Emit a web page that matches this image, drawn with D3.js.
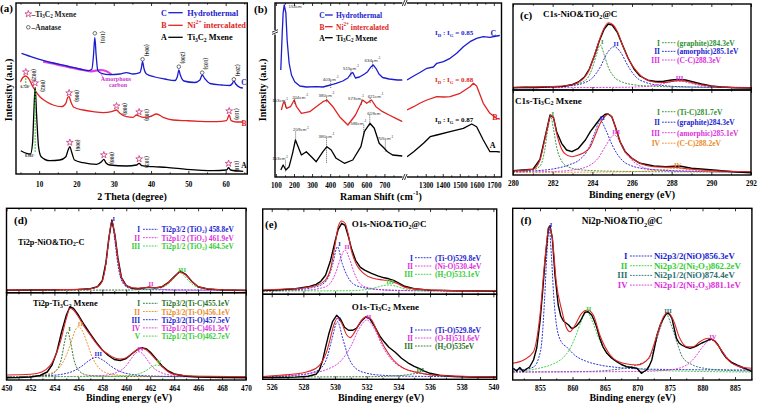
<!DOCTYPE html>
<html><head><meta charset="utf-8">
<script src="https://cdn.jsdelivr.net/npm/d3@7"></script>
<style>
body{margin:0;background:#fff}
svg{display:block;font-family:"Liberation Serif","Times New Roman",serif;font-weight:bold}
</style></head><body>
<div id="chart"></div>
<script>
// ---------- (a) XRD ----------
const xrdC = [[5.28,120.7],[8.39,116.7],[11.07,113.7],[13.75,111],[17.35,108],[20.9,105],[23.14,103.3],[24.13,104.7],[24.58,119],[24.93,136.7],[25.28,119],[25.74,103.3],[26.73,100.7],[28.95,99.3],[31.64,100],[33.43,101.3],[35.2,100],[37.0,101.3],[37.4,106],[37.72,112.3],[38.07,106],[38.79,100],[41.0,97],[43.7,95],[46.4,93.5],[47.1,98],[47.45,104],[47.85,99],[48.8,93],[51.7,91.5],[53.1,94],[53.7,99],[54.4,95.5],[55.8,90.5],[59.0,89],[61.1,88.5],[61.8,90.5],[62.2,93],[62.7,90],[63.8,86.7],[64.6,86]];
const xrdAmorph = [[11.07,112.3],[14.66,109.7],[18.23,106.7],[21.8,104],[24.05,102.7],[26.27,104],[28.07,102.7],[29.4,99.3]];
const xrdB = [[5.0,92.3],[5.71,96.7],[6.43,98],[7.16,95.7],[8.39,86.7],[10.19,77.3],[11.98,72.3],[13.75,69],[16.0,67.3],[17.16,70.7],[17.69,76.7],[18.04,77.3],[18.5,72.3],[19.3,66.7],[21.8,64],[24.48,62.3],[27.16,61.3],[29.4,62.3],[30.75,64],[31.64,60.7],[33.43,57.3],[35.2,56.7],[36.1,59],[36.8,58],[37.88,56.7],[39.68,57.3],[41.47,60],[43.24,56.7],[45.9,54],[49.5,53.3],[53.1,52.7],[57.56,52.3],[60.24,53.3],[60.94,59],[61.47,53.3],[62.9,52],[64.7,52]];
const xrdA = [[5.09,23.3],[6.62,20.7],[7.69,20],[8.23,30.7],[8.58,60.7],[8.93,86.7],[9.3,60.7],[9.84,27.3],[10.54,17.3],[12.87,13.3],[15.55,14],[17.16,17.3],[17.77,24],[18.23,27.3],[18.69,22.3],[19.49,14],[21.8,11.3],[25.39,9.7],[26.73,12.3],[27.35,14.7],[27.88,11.3],[28.95,9],[33.43,8],[36.1,9],[36.8,10.7],[37.53,8.3],[40.56,7.3],[44.16,6.7],[49.5,4.7],[56.65,3.3],[60.24,4],[60.78,6.3],[61.31,4],[64.7,2.7]];
const starsB = [[6.43,102],[18.04,81],[30.75,68],[36.8,62],[60.94,63]];
const starsA = [[8.93,91],[18.23,31.5],[27.35,19],[36.8,15],[60.78,10.5]];
const circlesC = [[24.93,140.7],[37.72,114.7],[47.45,107.3],[53.7,101.3],[62.2,94.7]];
const hklC = ["(101)","(004)","(200)","(105)","(204)"];
const hklMx = ["(002)","(006)","(008)","(103)","(110)"];
const xrdTicks = [10,20,30,40,50,60];

// ---------- (b) Raman ----------
const ramanC_L = [[127,107],[135,144],[140,164],[146,172],[155,164],[162,137],[173,114],[186,102],[204,95.3],[232,91],[268,90],[323,90.3],[360,90],[402,92],[433,93.7],[470,96],[498,99],[516,103.7],[525,104.5],[540,99],[562,100],[590,103],[607,105.3],[625,110],[638,112],[653,108.7],[670,103],[690,99.5],[726,98],[772,97],[800,97]];
const ramanC_R = [[1190,97],[1229,101],[1268,104.7],[1307,108.7],[1345,110],[1365,113.7],[1404,115.3],[1443,118.7],[1482,123.7],[1521,130.3],[1560,135.3],[1599,138.7],[1638,140.3],[1677,139.7],[1716,141],[1735,141.5]];
const ramanB_L = [[130,67],[140,73.7],[146,75.3],[159,68.7],[181,70.3],[201,77],[214,70.3],[241,63.7],[287,65.3],[323,70.3],[360,75.3],[382,77],[415,70.3],[452,60.3],[498,52],[540,62],[562,70.3],[580,77],[602,73.7],[629,77],[653,70.3],[690,65.3],[726,62],[763,58.7],[800,55.3]];
const ramanB_R = [[1190,67],[1229,70.3],[1268,74],[1307,77],[1365,80.3],[1404,80],[1443,80.3],[1502,83.7],[1560,90.3],[1580,93.7],[1599,91],[1638,73.7],[1677,63.7],[1716,58.7],[1735,58]];
const ramanA_L = [[127,7],[140,12],[155,7],[173,10.3],[192,23.7],[208,37],[223,30.3],[241,22],[268,25.3],[296,20.3],[323,15.3],[360,25.3],[382,30.3],[406,27],[433,18.7],[479,13.7],[525,17],[570,30.3],[589,45.3],[620,53.7],[644,48.7],[671,33.7],[699,28.7],[717,25.3],[745,22],[800,21]];
const ramanA_R = [[1190,20.3],[1229,25.3],[1287,33.7],[1326,40.3],[1365,42],[1443,45.3],[1521,48.7],[1570,53],[1599,50.3],[1638,37],[1677,25.3],[1716,25.3],[1735,25]];
const ramanTagsC = [[153,"153cm^{-1}"],[403,"403cm^{-1}"],[515,"515cm^{-1}"],[634,"634cm^{-1}"]];
const ramanTagsB = [[153,"153cm^{-1}"],[204,"204cm^{-1}"],[380,"380cm^{-1}"],[573,"573cm^{-1}"],[621,"621cm^{-1}"]];
const ramanTagsA = [[153,"153cm^{-1}"],[209,"209cm^{-1}"],[380,"380cm^{-1}"],[586,"586cm^{-1}"],[619,"619cm"],[705,"705cm^{-1}"]];
const ratios = ["I_D : I_G = 0.85","I_D : I_G = 0.88","I_D : I_G = 0.87"];
const ramanTicksL = [100,200,300,400,500,600,700];
const ramanTicksR = [1300,1400,1500,1600,1700];

// ---------- (c) C1s ----------
const c1sTopRaw = [[280,2.3],[280.6,2.8],[281.2,2.5],[281.9,3.2],[282.5,3.5],[283,5.5],[283.3,8],[283.6,13],[283.85,21],[284.1,34],[284.35,49],[284.6,61],[284.8,66],[285,65],[285.25,58],[285.5,46],[285.8,32],[286.1,21],[286.4,14],[286.8,9.8],[287.2,8.5],[287.6,8.7],[288,10],[288.3,10.5],[288.7,10],[289.1,8],[289.5,6],[290,4],[290.5,3],[291.2,2.3],[292,2]];
const c1sTopFit = [[280,2.7],[281,3],[282,3.5],[282.7,4.3],[283.2,6.7],[283.55,11.3],[283.8,18.3],[284.05,31.7],[284.3,46.7],[284.55,60],[284.8,67.3],[285.05,65],[285.3,56.7],[285.55,43.3],[285.9,28.3],[286.25,18.3],[286.6,11.7],[287.1,8],[287.6,7.5],[288,8.5],[288.3,9.3],[288.6,9],[289,7.5],[289.5,5.3],[290.3,3.3],[291,2.5],[292,2.2]];
const c1sTopI = [[280,2.5],[282,3],[283,5],[283.5,8],[283.8,13],[284,22],[284.2,35],[284.4,45],[284.6,35],[284.8,23],[285.1,13],[285.5,8],[286,5.5],[287,3.8],[288.5,3],[292,2.5]];
const c1sTopII = [[280,2.5],[282,3],[283,4.5],[283.5,6.5],[284,12],[284.4,23],[284.75,37],[285.1,43.3],[285.45,37],[285.8,24],[286.2,13],[286.7,7.5],[287.5,4.5],[289,3],[292,2.5]];
const c1sTopIII = [[280,2.3],[285,2.6],[286.5,3.3],[287.2,4.8],[287.7,7],[288,8.5],[288.3,9],[288.6,8.5],[288.9,7],[289.4,4.8],[290.1,3.3],[291.5,2.6],[292,2.5]];
const c1sBotRaw = [[280,4.3],[281,5.7],[281.36,15.7],[281.6,36.7],[281.87,60],[282.04,57.7],[282.2,43.3],[282.45,31.7],[282.7,25],[282.97,23.3],[283.3,26.7],[283.65,35],[283.9,43.3],[284.15,50],[284.4,56.7],[284.65,60.7],[284.8,61],[284.98,58.3],[285.15,49],[285.4,33.3],[285.65,23.3],[286,16.7],[286.4,11.7],[287.1,9],[287.7,8.3],[288.4,9],[289,6.7],[290.1,5],[291.1,3.3],[292,2.3]];
const c1sBotFit = [[280,4.3],[281,5.7],[281.36,15],[281.6,35],[281.78,51.7],[281.9,60],[282.04,56.7],[282.2,41.7],[282.37,30],[282.6,21.7],[282.97,18.3],[283.3,20],[283.65,23.3],[283.9,28.3],[284.15,40],[284.4,51.7],[284.65,59],[284.8,60.7],[284.98,58.3],[285.15,48.3],[285.4,33.3],[285.65,23.3],[286,16.7],[286.4,11.7],[287.1,8.3],[288.1,7.7],[288.9,6],[290.1,4.3],[292,3.3]];
const c1sBotI = [[280,3.5],[281,5],[281.4,10],[281.6,25],[281.75,45],[281.9,58.3],[282.05,45],[282.2,28],[282.45,14],[282.8,8],[283.5,5],[285,3.8],[288,3.2],[292,3]];
const c1sBotII = [[280,3],[281,4],[282,6],[282.8,10],[283.4,16],[283.8,26],[284.1,41],[284.4,54.3],[284.7,44],[285,30],[285.4,17],[286,9],[287,5.5],[289,3.8],[292,3]];
const c1sBotIII = [[280,3],[282,3.5],[283,5],[283.8,9],[284.3,17],[284.7,30],[285.1,40],[285.5,30],[285.9,17],[286.4,9],[287.2,5],[289,3.5],[292,3]];
const c1sBotIV = [[280,2.7],[285,3],[286.5,3.6],[287.3,4.8],[287.8,6],[288.2,6.7],[288.6,6],[289.1,4.8],[289.9,3.6],[291.5,3],[292,2.9]];
const c1sTopNames = ["(graphite)284.3eV","(amorphic)285.1eV","(C-C)288.3eV"];
const c1sBotNames = ["(Ti-C)281.7eV","(graphite)284.3eV","(amorphic)285.1eV","(C-C)288.2eV"];
const c1sTicks = [280,282,284,286,288,290,292];

// ---------- (d) Ti2p ----------
const ti2pTopRaw = [[450,2.5],[452,2.7],[454,3],[456,3.3],[457,4],[457.6,6],[458,12],[458.3,30],[458.55,55],[458.8,72.7],[459.05,58],[459.3,35],[459.6,15],[460,7],[460.5,4.5],[461,4],[461.5,4.8],[461.9,5.5],[462.4,4.8],[463,6],[463.5,10],[464,16],[464.5,21.7],[465,18],[465.5,11],[466,6],[466.8,3.7],[468,2.8],[470,2.2]];
const ti2pTopFit = [[450,2.6],[454,3],[456,3.3],[457,4],[457.6,6],[458,11.5],[458.3,29],[458.55,54],[458.8,71.5],[459.05,57],[459.3,34],[459.6,15],[460,7.5],[460.5,5],[461,4.5],[461.5,5],[461.9,5.5],[462.4,5],[463,6.2],[463.5,10],[464,15.5],[464.5,20.5],[465,17.5],[465.5,11],[466,6.3],[466.8,3.9],[468,3],[470,2.5]];
const ti2pTopI = [[450,2.5],[456,3],[457.3,4.5],[457.9,10],[458.3,28],[458.55,52],[458.8,71],[459.05,52],[459.3,28],[459.7,10],[460.3,4.5],[462,3],[470,2.5]];
const ti2pTopII = [[450,2.4],[460,2.6],[461,3.5],[461.5,4.6],[461.9,5.3],[462.3,4.6],[462.8,3.5],[464,2.6],[470,2.4]];
const ti2pTopIII = [[450,2.4],[461,2.8],[462.5,4],[463.3,7],[463.8,12],[464.2,17.5],[464.5,20],[464.8,17.5],[465.2,12],[465.7,7],[466.5,4],[468,2.8],[470,2.4]];
const ti2pBotRaw = [[450,2.3],[451,2.5],[452,3],[452.8,4.5],[453.4,8],[453.8,15],[454.2,28],[454.6,48],[455,65],[455.3,73.3],[455.6,71.5],[456,65],[456.5,55],[457,46],[457.5,37.5],[458,30],[458.5,24.5],[459,20.5],[459.5,19.5],[460,21.5],[460.5,26.5],[461,31],[461.3,32.3],[461.7,31],[462,28],[462.5,21],[463,14],[463.5,9],[464,6],[465,3.8],[466,3],[468,2.5],[470,2.2]];
const ti2pBotFit = [[450,5],[452,5.7],[453,8.3],[454,21.7],[454.5,38.3],[455,61.7],[455.3,71.7],[455.6,70],[456,63.3],[456.5,53.3],[457,45],[457.5,36.7],[458,30],[458.5,25.7],[459,22.3],[459.5,21],[460,22.3],[460.5,26.7],[461,31],[461.3,31.7],[461.6,30.7],[462,26.7],[462.5,20],[463,13.3],[463.5,8.3],[464,5.7],[465,4.3],[467,3.7],[470,3.3]];
const ti2pBotI = [[450,3.3],[452,3.6],[453.5,5],[454.2,10],[454.6,22],[454.85,38],[455.1,48.3],[455.35,38],[455.6,22],[456,10],[456.7,5],[458,3.8],[462,3.4],[470,3.3]];
const ti2pBotII = [[450,3.3],[452,3.8],[453.5,6],[454.3,11],[454.9,22],[455.4,38],[455.75,50],[456,53.3],[456.3,50],[456.7,38],[457.2,22],[457.8,11],[458.7,6],[460.5,3.8],[470,3.3]];
const ti2pBotIII = [[450,3.3],[452,3.6],[453.5,4.3],[454.5,5.5],[455.5,8.5],[456.3,14],[456.9,19.5],[457.5,22.7],[458.1,19.5],[458.7,14],[459.5,8.5],[460.5,5.5],[462,4],[465,3.4],[470,3.3]];
const ti2pBotIV = [[450,3.3],[456,3.6],[458,4.5],[459.2,7.5],[459.9,13],[460.4,21],[460.75,26.5],[461.05,28.3],[461.35,26.5],[461.7,21],[462.2,13],[462.9,7.5],[464,4.5],[466,3.6],[470,3.3]];
const ti2pBotV = [[450,3.3],[458,3.5],[460,4.2],[461,6],[461.6,9],[462.1,13],[462.55,15],[463,13],[463.5,9],[464.1,6],[465.1,4.2],[467,3.5],[470,3.3]];
const ti2pTopNames = ["Ti2p3/2 (TiO_2) 458.8eV","Ti2p1/2 (TiO_2) 461.9eV","Ti2p1/2 (TiO_2) 464.5eV"];
const ti2pBotNames = ["Ti2p3/2(Ti-C)455.1eV","Ti2p3/2(Ti-O)456.1eV","Ti2p3/2(Ti-O)457.5eV","Ti2p1/2(Ti-C)461.3eV","Ti2p1/2(Ti-O)462.7eV"];
const ti2pTicks = [450,452,454,456,458,460,462,464,466,468,470];

// ---------- (e) O1s ----------
const o1sTopRaw = [[525.43,3.8],[526.5,4.5],[527.5,5.5],[528.3,7.5],[528.8,10],[529.1,13],[529.4,19],[529.7,33],[530,53],[530.2,65],[530.42,71],[530.63,69],[530.84,58],[531.05,45],[531.3,34],[531.6,27],[531.9,24],[532.3,21],[532.7,18.5],[533.1,16.5],[533.4,15.5],[533.7,14],[534,11.5],[534.4,8],[535,5.5],[536,4.2],[537.5,3.6],[539,3.3],[540.2,3.1]];
const o1sTopFit = [[525.43,4.3],[526.5,5],[527.8,6],[528.8,8.7],[529.4,14.3],[529.7,24.3],[530,49.3],[530.2,67.7],[530.42,73.3],[530.63,71],[530.84,59.3],[531.05,42.7],[531.37,29.3],[531.8,21],[532.4,16],[533.05,14.3],[533.5,13.3],[533.9,11],[534.5,6.7],[535.6,4.7],[537.3,3.7],[540.2,3.3]];
const o1sTopI = [[525.43,3.3],[527.5,4.5],[528.5,6.5],[529.2,10],[529.6,18],[529.85,30],[530.15,47.6],[530.45,31],[530.75,19],[531.1,11],[531.7,7],[533,4.5],[535,3.6],[540.2,3.3]];
const o1sTopII = [[525.43,3.3],[528,4],[529.2,6.5],[529.7,11],[530.05,22],[530.35,36],[530.63,44.3],[530.9,36],[531.2,22],[531.55,11],[532.1,6.5],[533.5,4],[540.2,3.3]];
const o1sTopIII = [[525.43,3.3],[531,3.6],[532,4.8],[532.6,6.8],[533.05,8.7],[533.35,9.3],[533.7,8.7],[534.1,6.8],[534.6,4.8],[535.6,3.6],[540.2,3.3]];
const o1sBotRaw = [[525.43,1.7],[526.5,1.8],[527.5,2.2],[528.3,3],[528.8,5],[529,9],[529.2,18],[529.4,32],[529.6,45],[529.85,58],[530.1,64],[530.35,60],[530.6,52],[530.85,49],[531.1,49],[531.35,51],[531.65,58],[531.95,62.5],[532.2,60.5],[532.5,53],[532.8,44],[533.1,37.5],[533.4,32],[533.8,27],[534.2,21],[534.6,16.5],[535,13],[535.3,11],[535.6,8.5],[536,6],[536.6,4],[537.5,2.8],[538.5,2.3],[540.2,2]];
const o1sBotFit = [[525.43,2.7],[526.5,4],[527.8,6],[528.8,11],[529.2,18],[529.47,27.7],[529.7,41],[529.89,52.7],[530.15,61],[530.42,56],[530.74,44.3],[530.95,41.7],[531.26,47.7],[531.68,59.3],[532,62.7],[532.32,59.3],[532.74,44.3],[533.16,31],[533.68,19.3],[534.32,11],[535.16,7],[536.2,4.3],[538,3],[540.2,2.3]];
const o1sBotI = [[525.43,2.3],[527.5,4],[528.5,6.5],[529.1,11],[529.5,22],[529.8,40],[530.15,57.6],[530.5,40],[530.85,22],[531.3,11],[531.9,6.5],[533,4],[535,3],[540.2,2.5]];
const o1sBotII = [[525.43,2.3],[527,3.5],[528.5,6],[529.5,10],[530.4,19],[531,33],[531.5,50],[532,59.3],[532.5,50],[533,33],[533.6,19],[534.5,10],[535.5,6],[537,3.5],[540.2,2.5]];
const o1sBotIII = [[525.43,2.3],[532,2.6],[533.8,3.4],[534.6,4.6],[535,5.6],[535.26,6],[535.55,5.6],[535.9,4.6],[536.7,3.4],[538.5,2.6],[540.2,2.3]];
const o1sTopNames = ["(Ti-O)529.8eV","(Ni-O)530.4eV","(H_2O)533.1eV"];
const o1sBotNames = ["(Ti-O)529.8eV","(O-H)531.6eV","(H_2O)535eV"];
const o1sTicks = [526,528,530,532,534,536,538,540];

// ---------- (f) Ni2p ----------
const ni2pRaw = [[850.9,11.7],[851.4,9],[851.9,12.5],[852.4,8.5],[852.9,11],[853.4,13],[854,20],[854.5,32],[855,58.3],[855.4,88],[855.77,118.3],[856.28,151.7],[856.54,154.3],[856.9,141.7],[857.3,105],[857.8,75],[858.2,64],[858.6,59],[859,57],[859.4,55],[859.8,52],[860.1,51.7],[860.6,54],[861.15,58.3],[861.6,64],[861.9,67.7],[862.4,68.3],[862.95,65],[863.3,60],[863.7,53.3],[864.2,41.7],[864.7,33],[865.3,26.7],[866,22],[866.8,18.3],[867.5,15.5],[868.3,13.3],[869.1,12.5],[869.9,11.7],[870.3,9],[870.6,6.7],[871,8.5],[871.4,10],[871.8,14],[872.2,20],[872.6,32],[873,45],[873.5,55],[874,61.7],[874.4,66],[874.7,66.7],[875,65],[875.3,61.7],[875.7,50],[876,41.7],[876.4,37],[876.8,35],[877.4,33],[878.1,31.7],[878.7,33],[879.35,35],[879.9,37],[880.4,38.3],[880.9,40],[881.4,41],[881.9,39],[882.4,35],[883,28],[883.7,21.7],[884.5,17.5],[885.3,15],[886,13],[886.8,11],[887.6,8.3]];
const ni2pFit = [[850.8,16.7],[852.5,20],[854,28.3],[855,65],[855.77,121.7],[856.4,153.3],[856.9,141.7],[857.5,98.3],[858.4,68.3],[859.1,51.7],[859.6,48.3],[860.4,55],[861.4,66.7],[862.3,70],[863.2,65],[864.2,45],[865.8,25],[867.8,16.7],[869.9,15],[871.7,21.7],[873,45],[874,63.3],[874.7,67.7],[875.5,60],[876.5,41.7],[877.6,33.3],[878.6,33.3],[879.6,38.3],[880.9,41.7],[881.7,40],[882.7,31.7],[884.2,18.3],[885.8,13.3],[887.6,11.7]];
const ni2pI = [[850.8,10],[852.5,10.5],[854,13],[854.8,22],[855.3,40],[855.7,80],[856.05,125],[856.4,152],[856.75,125],[857.1,85],[857.6,52],[858.3,38],[859.1,33],[860.5,24],[862,19],[864.2,15],[867,12.5],[870,11.2],[875,10.5],[880,10.2],[887.6,10]];
const ni2pII = [[850.8,8],[853,9.5],[855,12],[857,16],[858.5,22],[859.5,30],[860.5,44],[861.3,58],[862.2,68],[863.1,58],[863.9,44],[864.9,30],[866,22],[867.5,16],[869.5,12],[872,10],[876,9],[887.6,8]];
const ni2pIII = [[850.8,8],[862,8.5],[866,10],[868.5,12.5],[870.3,16],[871.7,21],[872.6,33],[873.5,52],[874.4,66],[875.3,53],[876.2,35],[876.9,23],[878.5,15],[880.5,11.5],[883,10],[887.6,9]];
const ni2pIV = [[850.8,8],[870,8.5],[874,9.5],[876.5,12],[878,17],[879,24],[880,33],[880.7,38],[881.3,40],[881.9,38],[882.6,33],[883.6,24],[884.6,17],[886,12],[887.6,10]];
const ni2pNames = ["Ni2p3/2(NiO)856.3eV","Ni2p3/2(Ni_2O_3)862.2eV","Ni2p1/2(NiO)874.4eV","Ni2p1/2(Ni_2O_3)881.1eV"];
const ni2pTicks = [855,860,865,870,875,880,885];

const roman = ["I","II","III","IV","V"];

// ---------- helpers ----------
const BLUE = "#1c1ccf", RED = "#e02424", MAG = "#dd2ddd", GRN = "#2f8f2f", LGRN = "#33cc33",
      ORG = "#ec8a1e", TEAL = "#2e6e6e", DGRN = "#1f6f1f", PINK = "#cc3380";
const FONT = '"Liberation Serif","Times New Roman",serif';

const svg = d3.select("#chart").append("svg").attr("width", 758).attr("height", 405);

// text with _x / _{..} subscripts and ^x / ^{..} superscripts
function rich(t, s, fs) {
  const re = /([_^])\{([^}]*)\}|([_^])(.)/g;
  let last = 0, shift = 0, m;
  const add = (str, sh, small) => {
    const ts = t.append("tspan").text(str);
    if (sh !== shift) ts.attr("dy", ((sh - shift) * fs).toFixed(2));
    if (small) ts.attr("font-size", fs * 0.68);
    shift = sh;
  };
  while ((m = re.exec(s)) !== null) {
    if (m.index > last) add(s.slice(last, m.index), 0, false);
    const kind = m[1] || m[3];
    add(m[2] !== undefined ? m[2] : m[4], kind === "_" ? 0.28 : -0.38, true);
    last = re.lastIndex;
  }
  if (last < s.length) add(s.slice(last), 0, false);
}

function say(x, y, s, size, color, anchor, rot) {
  const t = svg.append("text").attr("x", x).attr("y", y)
    .attr("font-size", size).attr("fill", color || "#000")
    .attr("text-anchor", anchor || "start").attr("dominant-baseline", "central");
  if (rot) t.attr("transform", `rotate(${rot},${x},${y})`);
  rich(t, s, size);
  return t;
}

let clipN = 0;
function area(xs, ys) {
  const [x0, x1] = xs.range(), [y0, y1] = ys.range();
  const id = "clip" + (clipN++);
  svg.append("clipPath").attr("id", id).append("rect")
    .attr("x", x0).attr("y", y1).attr("width", x1 - x0).attr("height", y0 - y1);
  return svg.append("g").attr("clip-path", `url(#${id})`);
}

function frame(x0, x1, ys) {
  const [y0, y1] = ys.range();
  svg.append("rect").attr("x", x0).attr("y", y1).attr("width", x1 - x0).attr("height", y0 - y1)
    .attr("fill", "none").attr("stroke", "#000").attr("stroke-width", 1.4);
}

function plot(g, data, xs, ys, color, w, dash, linear) {
  g.append("path").datum(data)
    .attr("fill", "none").attr("stroke", color).attr("stroke-width", w)
    .attr("stroke-dasharray", dash || null).attr("stroke-linejoin", "round")
    .attr("d", d3.line().x(d => xs(d[0])).y(d => ys(d[1]))
      .curve(linear ? d3.curveLinear : d3.curveMonotoneX));
}

function xTicks(xs, ys, major, minor, pad, labels) {
  const [yB, yT] = ys.range();
  const none = () => "";
  const add = (y, axis, vals, size, fmt) => {
    const g = svg.append("g").attr("transform", `translate(0,${y})`)
      .call(axis(xs).tickValues(vals).tickSize(size).tickPadding(pad).tickFormat(fmt));
    g.select(".domain").remove();
    g.attr("font-family", FONT).attr("font-size", 7.2).attr("font-weight", "bold");
    g.selectAll("line").attr("stroke-width", 0.8);
  };
  add(yB, d3.axisBottom, major, -3, labels ? d3.format("d") : none);
  add(yB, d3.axisBottom, minor, -1.6, none);
  add(yT, d3.axisTop, major, -3, none);
  add(yT, d3.axisTop, minor, -1.6, none);
}

function halves(t) { return t.slice(0, -1).map((v, i) => (v + t[i + 1]) / 2); }

function legendRows(names, colors, xNum, xd0, xd1, xText, y0, dy, size) {
  names.forEach((n, i) => {
    const y = y0 + i * dy;
    say(xNum, y, roman[i], size, colors[i], "end");
    svg.append("line").attr("x1", xd0).attr("x2", xd1).attr("y1", y).attr("y2", y)
      .attr("stroke", colors[i]).attr("stroke-width", 0.9).attr("stroke-dasharray", "1.8,1.1");
    say(xText, y, n, size, colors[i]);
  });
}

function xps(xs, ys, raw, fit, comps, colors) {
  const g = area(xs, ys);
  comps.forEach((c, i) => plot(g, c, xs, ys, colors[i], 0.9, "2,1.2"));
  plot(g, raw, xs, ys, "#000", 1.4, null, true);
  plot(g, fit, xs, ys, RED, 1.1);
  comps.forEach((c, i) => {
    const top = c.reduce((a, b) => b[1] > a[1] ? b : a);
    say(xs(top[0]) + 2, ys(top[1]) - 4, roman[i], 6.5, colors[i], "middle");
  });
  frame(xs.range()[0], xs.range()[1], ys);
}

function valueAt(data, x) {
  const i = d3.bisector(d => d[0]).right(data, x);
  const a = data[Math.max(0, i - 1)], b = data[Math.min(data.length - 1, i)];
  if (a === b) return a[1];
  return a[1] + (b[1] - a[1]) * (x - a[0]) / (b[0] - a[0]);
}

// ---------- panel (a) ----------
const xa = d3.scaleLinear().domain([3.8, 65.8]).range([16, 247.3]);
const ya = d3.scaleLinear().domain([0, 171]).range([174, 3]);
{
  const g = area(xa, ya);
  plot(g, xrdAmorph, xa, ya, "#e040e0", 2.2);
  plot(g, xrdC, xa, ya, BLUE, 1.3);
  plot(g, xrdB, xa, ya, RED, 1.3);
  plot(g, xrdA, xa, ya, "#000", 1.3);
  // green guide lines under the (002) peaks
  [[xrdB[2], 96, 89], [xrdA[5], 84, 22]].forEach(([p, a, b]) => {
    g.append("line").attr("x1", xa(p[0])).attr("x2", xa(p[0])).attr("y1", ya(a)).attr("y2", ya(b))
      .attr("stroke", LGRN).attr("stroke-width", 1).attr("stroke-dasharray", "2,1");
  });
  const star = d3.symbol(d3.symbolStar, 14);
  [...starsB, ...starsA].forEach(d => {
    svg.append("path").attr("d", star()).attr("transform", `translate(${xa(d[0])},${ya(d[1])})`)
      .attr("fill", "#fff").attr("stroke", PINK).attr("stroke-width", 0.8);
  });
  circlesC.forEach(d => {
    svg.append("circle").attr("cx", xa(d[0])).attr("cy", ya(d[1])).attr("r", 1.8)
      .attr("fill", "#fff").attr("stroke", "#333").attr("stroke-width", 0.7);
  });
  circlesC.forEach((d, i) => {
    if (i === 0) say(xa(d[0]) + 8, ya(d[1]) + 4, hklC[i], 5.5, "#333", "middle", 90);
    else say(xa(d[0]) + 4, ya(d[1]) - 3, hklC[i], 5.5, "#333", "end", 90);
  });
  [...starsB, ...starsA].forEach((d, i) => {
    say(xa(d[0]) + 8, ya(d[1]) + 3, hklMx[i % 5], 5.5, "#333", "middle", 90);
  });
  say(xa(6.3), ya(86.7), "6.720°", 3.6, "#222", "middle");
  say(xa(7.5), ya(18), "8.983°", 3.6, "#222", "middle");
  say(116, 79, "Amorphous", 6, "#cc33cc", "middle");
  say(118, 84.5, "carbon", 6, "#cc33cc", "middle");
  svg.append("line").attr("x1", 104).attr("y1", 80).attr("x2", xa(26.27)).attr("y2", ya(104) + 1)
    .attr("stroke", "#cc33cc").attr("stroke-width", 0.6);
  frame(16, 247.3, ya);
  xTicks(xa, ya, xrdTicks, [5, 15, 25, 35, 45, 55, 65], 8, true);
  // legend
  svg.append("path").attr("d", star()).attr("transform", "translate(28.3,14)")
    .attr("fill", "#fff").attr("stroke", PINK).attr("stroke-width", 0.8);
  say(31.5, 14, "–Ti_3C_2 Mxene", 7.5, "#222");
  svg.append("circle").attr("cx", 28.3).attr("cy", 27.3).attr("r", 1.8).attr("fill", "#fff").attr("stroke", "#333").attr("stroke-width", 0.7);
  say(31.5, 27.3, "–Anatase", 7.5, "#222");
  [["C", "Hydrothermal", BLUE, 12.7], ["B", "Ni^{2+} intercalated", RED, 25.3], ["A", "Ti_3C_2 Mxene", "#000", 37.3]]
    .forEach(([k, s, c, y]) => {
      say(164, y, k, 8, c, "middle");
      svg.append("line").attr("x1", 168.3).attr("x2", 182.7).attr("y1", y).attr("y2", y).attr("stroke", c).attr("stroke-width", 1.3);
      say(187.3, y, s, 8.3, c);
    });
  say(244, 82, "C", 7.5, BLUE, "middle");
  say(244, 123.3, "B", 7.5, RED, "middle");
  say(244, 165, "A", 7.5, "#000", "middle");
  say(0, 8, "(a)", 11, "#000");
  say(8, 90, "Intensity (a.u.)", 10, "#000", "middle", -90);
  say(132, 195.5, "2 Theta (degree)", 10, "#000", "middle");
}

// ---------- panel (b) ----------
const xbL = d3.scaleLinear().domain([95, 800]).range([275, 402.5]);
const xbR = d3.scaleLinear().domain([1190, 1745]).range([407, 501.5]);
const yb = d3.scaleLinear().domain([0, 174]).range([177, 3]);
{
  const gL = area(xbL, yb), gR = area(xbR, yb);
  [[ramanC_L, ramanC_R, BLUE], [ramanB_L, ramanB_R, RED], [ramanA_L, ramanA_R, "#000"]].forEach(([l, r, c]) => {
    plot(gL, l, xbL, yb, c, 1.3, null, true);
    plot(gR, r, xbR, yb, c, 1.3, null, true);
  });
  [[ramanTagsC, ramanC_L, 6], [ramanTagsB, ramanB_L, 5], [ramanTagsA, ramanA_L, 11]].forEach(([tags, data, gap]) => {
    tags.forEach(([sh, s], i) => {
      const v = valueAt(data, sh);
      const nearNext = i < tags.length - 1 && xbL(tags[i + 1][0]) - xbL(sh) < 14;
      const nearPrev = i > 0 && xbL(sh) - xbL(tags[i - 1][0]) < 14;
      let anchor = nearNext ? "end" : nearPrev ? "start" : "middle";
      let x = xbL(sh) + (nearNext ? 2.5 : nearPrev ? -2.5 : 0), y = yb(v) - gap;
      let clamped = false;
      if (y < 8) { x = xbL(sh) + 3; y = 6; anchor = "start"; clamped = true; }
      svg.append("text").attr("x", x).attr("y", y).attr("font-size", 4.4).attr("font-weight", "normal")
        .attr("font-family", '"Liberation Sans",Arial,sans-serif').attr("fill", "#333")
        .attr("text-anchor", anchor).attr("dominant-baseline", "central").call(t => rich(t, s, 4.4));
      const tail = (data === ramanA_L && sh === 380) ? 16 : 3;
      if (!clamped) svg.append("line").attr("x1", xbL(sh)).attr("x2", xbL(sh))
        .attr("y1", y + 2).attr("y2", yb(v) + tail)
        .attr("stroke", "#222").attr("stroke-width", 0.6).attr("stroke-dasharray", "1.2,0.8");
    });
  });
  frame(275, 501.5, yb);
  xTicks(xbL, yb, ramanTicksL, [150, 250, 350, 450, 550, 650, 750], 6, true);
  xTicks(xbR, yb, ramanTicksR, [1250, 1350, 1450, 1550, 1650], 6, true);
  // axis breaks
  [[404.7, 177], [404.7, 3]].forEach(([x, y]) => {
    svg.append("rect").attr("x", x - 2.3).attr("y", y - 2).attr("width", 4.6).attr("height", 4).attr("fill", "#fff");
    [-1, 1].forEach(k => svg.append("line").attr("x1", x + k * 1.1 - 1.3).attr("y1", y + 3)
      .attr("x2", x + k * 1.1 + 1.3).attr("y2", y - 3).attr("stroke", "#000").attr("stroke-width", 0.8));
  });
  svg.append("rect").attr("x", 273).attr("y", 30).attr("width", 4).attr("height", 4.5).attr("fill", "#fff");
  [-1, 1].forEach(k => svg.append("line").attr("x1", 272).attr("y1", 33.3 + k * 1.1)
    .attr("x2", 278).attr("y2", 30.8 + k * 1.1).attr("stroke", "#000").attr("stroke-width", 0.8));
  [["C", "Hydrothermal", BLUE, 15], ["B", "Ni^{2+} intercalated", RED, 26.7], ["A", "Ti_3C_2 Mxene", "#000", 37.7]]
    .forEach(([k, s, c, y]) => {
      say(322, y, k, 7.5, c, "middle");
      svg.append("line").attr("x1", 325).attr("x2", 332.7).attr("y1", y).attr("y2", y).attr("stroke", c).attr("stroke-width", 1.3);
      say(336, y, s, 7.5, c);
    });
  say(435, 33.3, ratios[0], 7, BLUE);
  say(435, 80, ratios[1], 7, RED);
  say(435, 120, ratios[2], 7, "#000");
  say(493.3, 33.3, "C", 8, BLUE, "middle");
  say(495, 116.7, "B", 8, RED, "middle");
  say(492.7, 145, "A", 8, "#000", "middle");
  say(254, 9, "(b)", 11, "#000");
  say(262, 90, "Intensity (a.u.)", 10, "#000", "middle", -90);
  say(381, 196, "Raman Shift (cm^{-1})", 10, "#000", "middle");
}

// ---------- panel (c) ----------
const xc = d3.scaleLinear().domain([280, 292]).range([513, 751]);
const yc1 = d3.scaleLinear().domain([0, 86]).range([90, 4]);
const yc2 = d3.scaleLinear().domain([0, 85]).range([175, 90]);
{
  const top = [GRN, BLUE, MAG], bot = [GRN, BLUE, MAG, ORG];
  xps(xc, yc1, c1sTopRaw, c1sTopFit, [c1sTopI, c1sTopII, c1sTopIII], top);
  xps(xc, yc2, c1sBotRaw, c1sBotFit, [c1sBotI, c1sBotII, c1sBotIII, c1sBotIV], bot);
  const minor = halves(c1sTicks);
  xTicks(xc, yc1, c1sTicks, minor, 5.5, false);
  xTicks(xc, yc2, c1sTicks, minor, 5.5, true);
  legendRows(c1sTopNames, top, 660, 662, 676.5, 677, 42.7, 8.65, 7.5);
  legendRows(c1sBotNames, bot, 660, 662, 676.5, 677, 111.7, 10.5, 7.5);
  say(520, 15, "(c)", 11, "#000");
  say(543, 14, "C1s-NiO&TiO_2@C", 9, "#000");
  say(515, 100.5, "C1s-Ti_3C_2 Mxene", 9, "#000");
  say(632, 193.5, "Binding energy (eV)", 10, "#000", "middle");
}

// ---------- panel (d) ----------
const xd = d3.scaleLinear().domain([450, 470]).range([6.5, 246]);
const yd1 = d3.scaleLinear().domain([0, 84.4]).range([292.7, 208.3]);
const yd2 = d3.scaleLinear().domain([0, 87.3]).range([380, 292.7]);
{
  const top = [BLUE, MAG, LGRN], bot = [DGRN, ORG, BLUE, MAG, LGRN];
  xps(xd, yd1, ti2pTopRaw, ti2pTopFit, [ti2pTopI, ti2pTopII, ti2pTopIII], top);
  xps(xd, yd2, ti2pBotRaw, ti2pBotFit, [ti2pBotI, ti2pBotII, ti2pBotIII, ti2pBotIV, ti2pBotV], bot);
  const minor = halves(ti2pTicks);
  xTicks(xd, yd1, ti2pTicks, minor, 5.5, false);
  xTicks(xd, yd2, ti2pTicks, minor, 5.5, true);
  legendRows(ti2pTopNames, top, 140, 143, 158, 161.5, 229.3, 8.35, 7.3);
  legendRows(ti2pBotNames, bot, 140, 143, 158, 161.5, 303.3, 8.2, 7.3);
  say(14, 220, "(d)", 11, "#000");
  say(18, 241.7, "Ti2p-NiO&TiO_2-C", 8.3, "#000");
  say(33, 303.3, "Ti2p-Ti_3C_2 Mxene", 8.3, "#000");
  say(129, 397, "Binding energy (eV)", 10, "#000", "middle");
}

// ---------- panel (e) ----------
const xe = d3.scaleLinear().domain([525.43, 540.21]).range([262.7, 496.7]);
const ye1 = d3.scaleLinear().domain([0, 85.3]).range([294.3, 209]);
const ye2 = d3.scaleLinear().domain([0, 85]).range([379.3, 294.3]);
{
  const top = [BLUE, MAG, LGRN], bot = [BLUE, MAG, DGRN];
  xps(xe, ye1, o1sTopRaw, o1sTopFit, [o1sTopI, o1sTopII, o1sTopIII], top);
  xps(xe, ye2, o1sBotRaw, o1sBotFit, [o1sBotI, o1sBotII, o1sBotIII], bot);
  const minor = halves(o1sTicks);
  xTicks(xe, ye1, o1sTicks, minor, 5.5, false);
  xTicks(xe, ye2, o1sTicks, minor, 5.5, true);
  legendRows(o1sTopNames, top, 413, 415, 432, 435, 257.7, 8.3, 7.5);
  legendRows(o1sBotNames, bot, 413, 415, 432, 435, 330, 8, 7.5);
  say(265, 224.3, "(e)", 11, "#000");
  say(351.7, 224.3, "O1s-NiO&TiO_2@C", 9, "#000");
  say(351.7, 306.7, "O1s-Ti_3C_2 Mxene", 9, "#000");
  say(381, 397, "Binding energy (eV)", 10, "#000", "middle");
}

// ---------- panel (f) ----------
const xf = d3.scaleLinear().domain([850.8, 887.6]).range([512.7, 751.9]);
const yf = d3.scaleLinear().domain([0, 171.7]).range([380, 208.3]);
{
  const cols = [BLUE, LGRN, TEAL, MAG];
  xps(xf, yf, ni2pRaw, ni2pFit, [ni2pI, ni2pII, ni2pIII, ni2pIV], cols);
  xTicks(xf, yf, ni2pTicks, [852.5, ...halves(ni2pTicks), 887.5], 5.5, true);
  legendRows(ni2pNames, cols, 627.5, 630, 652, 654, 256, 9.7, 8.8);
  say(520.5, 220, "(f)", 11, "#000");
  say(581.7, 221, "Ni2p-NiO&TiO_2@C", 9.3, "#000");
  say(632.5, 397, "Binding energy (eV)", 10, "#000", "middle");
}
</script></body></html>
